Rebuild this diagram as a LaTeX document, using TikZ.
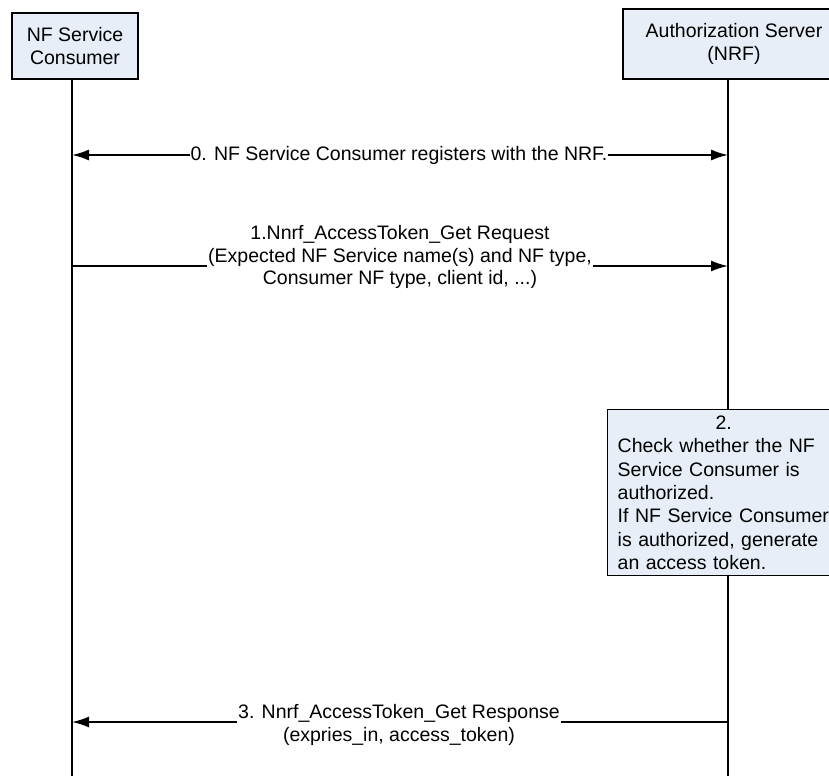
\documentclass[tikz,border=0pt]{standalone}
\usepackage{fontspec}
\setmainfont{Liberation Sans}
\usepackage{tikz}
\usetikzlibrary{arrows.meta}
\usetikzlibrary{calc}
\definecolor{boxfill}{RGB}{232,238,247}
\newcommand{\msgfont}{\fontsize{19.5}{22.8}\selectfont}
\newcommand{\boxfont}{\fontsize{19.5}{23.4}\selectfont}

\begin{document}
\begin{tikzpicture}[
        x=1pt, y=-1pt,
        every node/.style={font=\msgfont},
        msgtip/.tip={Latex[length=17pt,width=11pt]},
        actor/.style={rectangle,draw=black,line width=1.4pt,fill=boxfill,
                      align=center,inner sep=0pt},
        stepbox/.style={rectangle,draw=black,line width=1.4pt,fill=boxfill,
                        text width=212pt,align=left,inner xsep=10pt,inner ysep=0pt,
                        font=\boxfont},
        lifeline/.style={line width=1.6pt},
        msg/.style={line width=1.6pt,-msgtip},
        msglabel/.style={fill=white,align=center,inner xsep=1pt,inner ysep=0pt}
      ]
      \useasboundingbox (0,0) rectangle (829,776);

      % The two parties, the server box runs past the right edge
      \node[actor,minimum width=126pt,minimum height=66pt] (cons) at (75,46) {NF Service\\Consumer};
      \node[actor,minimum width=222pt,minimum height=70pt] (auth) at (734,44) {Authorization Server\\(NRF)};

      % Lifelines down to the bottom edge
      \coordinate (consend) at (72,776);
      \coordinate (authend) at (728,776);
      \draw[lifeline] (cons.south -| consend) -- (consend);
      \draw[lifeline] (auth.south -| authend) -- (authend);

      % Heights of the messages
      \coordinate (m0) at (0,155);
      \coordinate (m1) at (0,266);
      \coordinate (m3) at (0,722);

      % 0. registration, arrow at both ends
      \draw[msg,msgtip-msgtip] (m0 -| consend) -- (m0 -| authend);
      \node[msglabel] (l0) at (399,155) {0. NF Service Consumer registers with the NRF.};

      % 1. token request
      \draw[msg] (m1 -| consend) -- (m1 -| authend);
      \node[msglabel] (l1) at (400,257) {1.Nnrf\_AccessToken\_Get Request\\(Expected NF Service name(s) and NF type,\\Consumer NF type, client id, ...)};

      % 2. check on the server side
      \node[stepbox,anchor=north west,minimum height=166pt] (check) at (607,409)
        {\makebox[\linewidth]{2.}\\Check whether the NF\\Service Consumer is\\authorized.\\If NF Service Consumer\\is authorized, generate\\an access token.};

      % 3. token response
      \draw[msg] (m3 -| authend) -- (m3 -| consend);
      \node[msglabel] (l3) at (399,725) {3. Nnrf\_AccessToken\_Get Response\\(expries\_in, access\_token)};
    \end{tikzpicture}
\end{document}
